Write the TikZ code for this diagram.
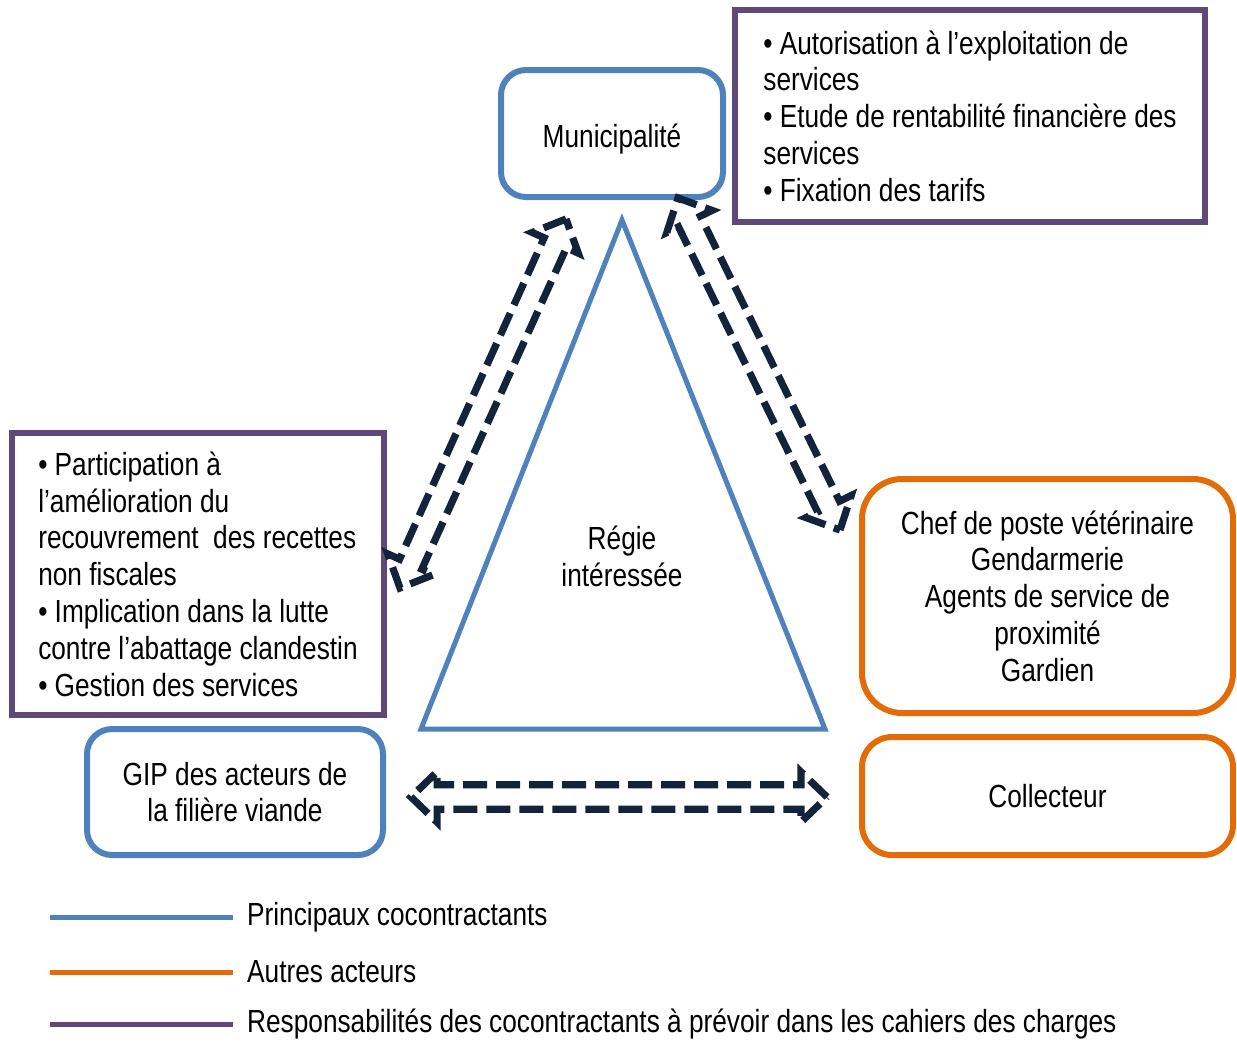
\documentclass[tikz,border=0pt]{standalone}
\usepackage{fontspec}
\setmainfont{Liberation Sans}[FakeStretch=0.82]
\usetikzlibrary{shapes.arrows,calc}
\definecolor{mainblue}{HTML}{4F81BD}
\definecolor{otherorange}{HTML}{E36C09}
\definecolor{dutypurple}{HTML}{5F497A}
\definecolor{linknavy}{HTML}{14233C}

\begin{document}
\begin{tikzpicture}[x=0.5pt, y=-0.5pt,
    every node/.style={font=\fontsize{16}{18.4}\selectfont},
    mainbox/.style={draw=mainblue, line width=3pt, rounded corners=12.5pt, align=center},
    otherbox/.style={draw=otherorange, line width=3pt, align=center},
    dutybox/.style={draw=dutypurple, line width=3pt, align=left},
    link/.style={double arrow, draw=linknavy, line width=3.6pt, dash pattern=on 12pt off 4.5pt, inner sep=0pt, inner ysep=4.3pt, double arrow head extend=6.5pt, double arrow tip angle=88, double arrow head indent=0pt, minimum width=0pt},
    keytext/.style={right=2.5pt, text=black}]
    \useasboundingbox (0,0) rectangle (1237,1041);

    \node[mainbox, minimum width=111pt, minimum height=63.5pt, text height=17.5pt] (muni) at (612,133.5) {Municipalité};
    \node[mainbox, minimum width=148pt, minimum height=63pt] (gip) at (235,792) {GIP des acteurs de\\la filière viande};
    \node[otherbox, rounded corners=20pt, minimum width=185.5pt, minimum height=117pt] (chef) at (1047.5,596) {Chef de poste vétérinaire\\Gendarmerie\\Agents de service de\\proximité\\Gardien};
    \node[otherbox, rounded corners=15pt, minimum width=185.5pt, minimum height=59pt] (collect) at (1047.5,796) {Collecteur};
    \node[dutybox, minimum width=235pt, minimum height=106pt] (dutymuni) at (970,116) {• Autorisation à l’exploitation de\\services\\• Etude de rentabilité financière des\\services\\• Fixation des tarifs};
    \node[dutybox, minimum width=186pt, minimum height=141pt] (dutygip) at (198,574) {• Participation à\\l’amélioration du\\recouvrement~ des recettes\\non fiscales\\• Implication dans la lutte\\contre l’abattage clandestin\\• Gestion des services};

    \coordinate (apex) at (622,220);
    \coordinate (baseL) at (421,729);
    \coordinate (baseR) at (825,729);
    \draw[mainblue, line width=2.5pt] (apex) -- (baseL) -- (baseR) -- cycle;
    \node[align=center] (regie) at (622,556) {Régie\\intéressée};

    \coordinate (linkLa) at (400,588);
    \coordinate (linkLb) at (566,219);
    \coordinate (linkRa) at (678,198);
    \coordinate (linkRb) at (840,530);
    \coordinate (linkBa) at (411,797);
    \coordinate (linkBb) at (827,797);
    \foreach \a/\b in {linkLa/linkLb, linkRa/linkRb, linkBa/linkBb}
      \path let \p1=($(\b)-(\a)$), \n1={atan2(\y1,\x1)}, \n2={veclen(\x1,\y1)} in
        node[link, rotate=\n1, minimum height=\n2] (\a-arrow) at ($(\a)!0.5!(\b)$) {};

    \coordinate (keyMa) at (50,917);
    \coordinate (keyMb) at (233,917);
    \coordinate (keyOa) at (50,972);
    \coordinate (keyOb) at (233,972);
    \coordinate (keyDa) at (50,1024);
    \coordinate (keyDb) at (233,1024);
    \draw[mainblue, line width=2.5pt] (keyMa) -- (keyMb) node[keytext] (keyM) {Principaux cocontractants};
    \draw[otherorange, line width=2.5pt] (keyOa) -- (keyOb) node[keytext] (keyO) {Autres acteurs};
    \draw[dutypurple, line width=2.5pt] (keyDa) -- (keyDb) node[keytext] (keyD) {Responsabilités des cocontractants à prévoir dans les cahiers des charges};
\end{tikzpicture}
\end{document}
